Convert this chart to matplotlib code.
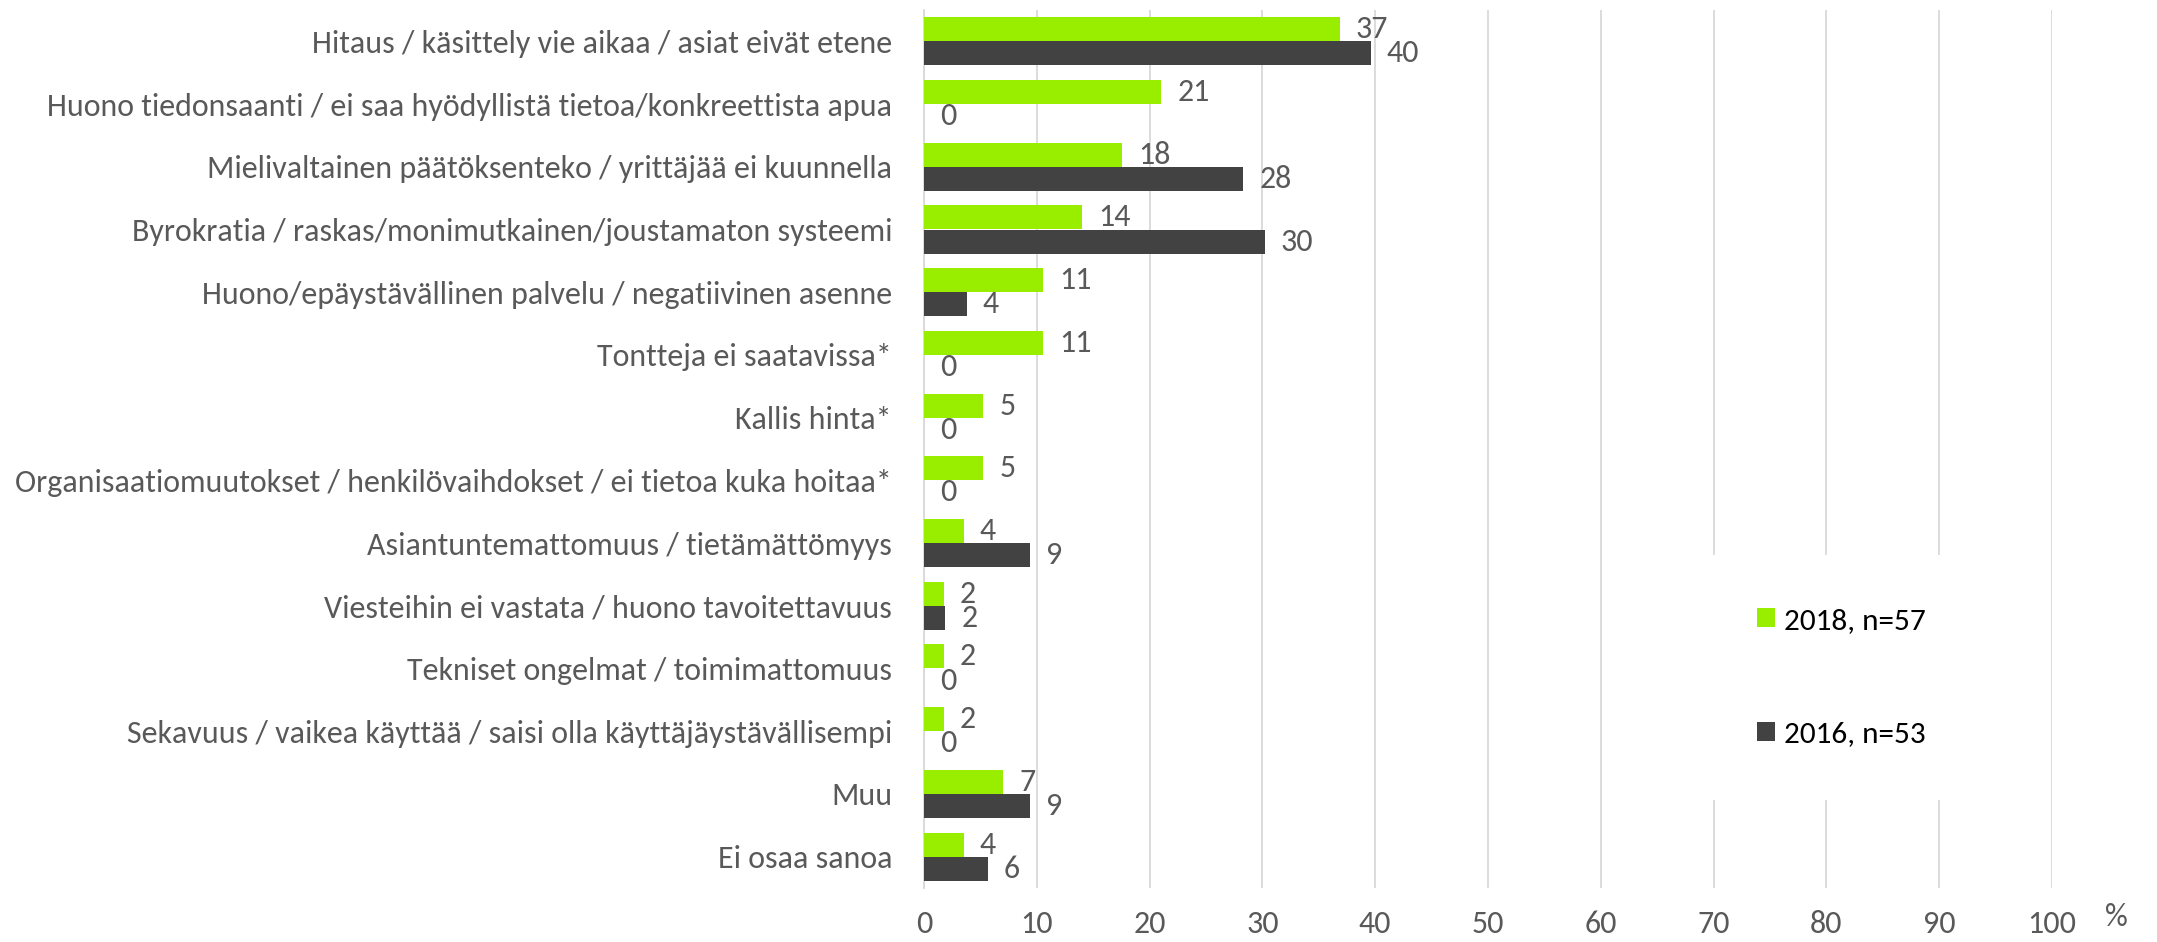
import matplotlib
matplotlib.use("Agg")
import matplotlib.pyplot as plt
from matplotlib.patches import Patch
import numpy as np

categories = [
    "Hitaus / käsittely vie aikaa / asiat eivät etene",
    "Huono tiedonsaanti / ei saa hyödyllistä tietoa/konkreettista apua",
    "Mielivaltainen päätöksenteko / yrittäjää ei kuunnella",
    "Byrokratia / raskas/monimutkainen/joustamaton systeemi",
    "Huono/epäystävällinen palvelu / negatiivinen asenne",
    "Tontteja ei saatavissa*",
    "Kallis hinta*",
    "Organisaatiomuutokset / henkilövaihdokset / ei tietoa kuka hoitaa*",
    "Asiantuntemattomuus / tietämättömyys",
    "Viesteihin ei vastata / huono tavoitettavuus",
    "Tekniset ongelmat / toimimattomuus",
    "Sekavuus / vaikea käyttää / saisi olla käyttäjäystävällisempi",
    "Muu",
    "Ei osaa sanoa",
]
values_2018 = [36.84, 21.05, 17.54, 14.04, 10.53, 10.53, 5.26, 5.26, 3.51, 1.75, 1.75, 1.75, 7.02, 3.51]
values_2016 = [39.62, 0.0, 28.30, 30.19, 3.77, 0.0, 0.0, 0.0, 9.43, 1.89, 0.0, 0.0, 9.43, 5.66]
series_labels = ["2018, n=57", "2016, n=53"]
xticks = list(range(0, 101, 10))

plt.rcParams['font.family'] = ['Carlito', 'Liberation Sans Narrow', 'Lato', 'DejaVu Sans']

GREEN = '#99EE00'
DARK = '#424242'
TXT = '#595959'
FS = 23
LFS = 22.5

fig = plt.figure(figsize=(21.57, 9.42), dpi=100)
ax = fig.add_axes([924/2157, 1 - 888/942, (2052-924)/2157, (888-10)/942])

n = len(categories)
y = np.arange(n)
h = 0.383
ax.barh(y - h/2, values_2018, height=h, color=GREEN, linewidth=0, zorder=3)
ax.barh(y + h/2, values_2016, height=h, color=DARK, linewidth=0, zorder=3)

for yy, v in zip(y - h/2, values_2018):
    ax.annotate(f"{v:.0f}", xy=(v, yy), xytext=(11.5, 0), textcoords='offset points',
                ha='left', va='center', fontsize=FS, color=TXT)
for yy, v in zip(y + h/2, values_2016):
    ax.annotate(f"{v:.0f}", xy=(v, yy), xytext=(11.5, 0), textcoords='offset points',
                ha='left', va='center', fontsize=FS, color=TXT)

ax.set_xlim(0, 100)
ax.set_ylim(n - 0.5, -0.5)
ax.set_xticks(xticks)
ax.set_xticklabels([str(t) for t in xticks], fontsize=FS, color=TXT)
ax.set_yticks(y)
ax.set_yticklabels(categories, fontsize=FS, color=TXT)
ax.tick_params(axis='x', length=0, pad=16)
ax.tick_params(axis='y', length=0, pad=23)
ax.grid(axis='x', color='#D9D9D9', linewidth=1.3, zorder=0)
for s in ['top', 'right', 'bottom']:
    ax.spines[s].set_visible(False)
ax.spines['left'].set_color('#D9D9D9')
ax.spines['left'].set_linewidth(1.3)

ax.text(2116/2157, 1 - 917/942, "%", transform=fig.transFigure, fontsize=FS, color=TXT,
        ha='center', va='center')

handles = [Patch(facecolor=GREEN, edgecolor='none'), Patch(facecolor=DARK, edgecolor='none')]
leg = fig.legend(handles, series_labels, loc='center left', bbox_to_anchor=(1688/2157, 1 - 677.5/942),
                 fontsize=LFS, frameon=True, facecolor='white', edgecolor='none', framealpha=1,
                 handlelength=0.58, handleheight=0.58, handletextpad=0.3, labelspacing=2.8,
                 borderpad=1.7, fancybox=False)
for t in leg.get_texts():
    t.set_color('#000000')

fig.savefig("out.png", dpi=100)
